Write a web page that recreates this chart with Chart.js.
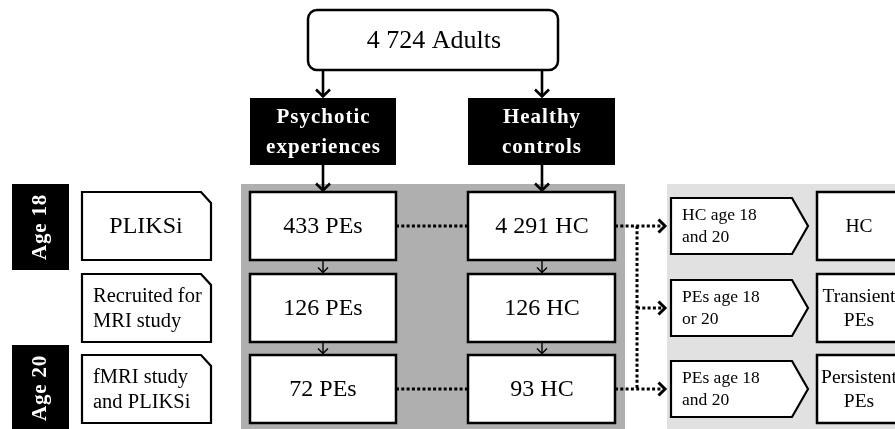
<!DOCTYPE html>
<html>
<head>
<meta charset="utf-8">
<script src="https://cdn.jsdelivr.net/npm/chart.js@4.4.1/dist/chart.umd.min.js"></script>
<style>html,body{margin:0;padding:0;background:#fff;overflow:hidden}</style>
</head>
<body>
<canvas id="flow" width="895" height="429"></canvas>
<script>
'use strict';

// --- data ---
const totalAdults      = 4724;
const groupLabels      = [['Psychotic', 'experiences'], ['Healthy', 'controls']];
const ageLabels        = ['Age 18', 'Age 20'];
const stageLabels      = [['PLIKSi'], ['Recruited for', 'MRI study'], ['fMRI study', 'and PLIKSi']];
const peCounts         = [433, 126, 72];
const hcCounts         = [4291, 126, 93];
const outcomeCriteria  = [['HC age 18', 'and 20'], ['PEs age 18', 'or 20'], ['PEs age 18', 'and 20']];
const outcomeGroups    = [['HC'], ['Transient', 'PEs'], ['Persistent', 'PEs']];

// --- layout (in chart units, 1 unit = 1 px) ---
const rowTop  = [192, 274, 355];
const rowH    = 68;
const colPE   = [250, 396];
const colHC   = [468, 615];
const SERIF   = '"Liberation Serif", "Times New Roman", serif';

const fmt = n => n >= 1000 ? String(n).replace(/\B(?=(\d{3})+(?!\d))/g, ' ') : String(n);

const flowPlugin = {
    id: 'flow',
    afterDraw(chart) {
        const ctx = chart.ctx;
        const xs = chart.scales.x, ys = chart.scales.y;
        const X = v => xs.getPixelForValue(v);
        const Y = v => ys.getPixelForValue(v);

        const rect = (x0, y0, x1, y1, fill, lw) => {
            ctx.beginPath();
            ctx.rect(X(x0), Y(y0), X(x1) - X(x0), Y(y1) - Y(y0));
            if (fill) { ctx.fillStyle = fill; ctx.fill(); }
            if (lw) { ctx.lineWidth = lw; ctx.strokeStyle = '#000'; ctx.stroke(); }
        };
        const poly = (pts, fill, lw) => {
            ctx.beginPath();
            pts.forEach((p, i) => i ? ctx.lineTo(X(p[0]), Y(p[1])) : ctx.moveTo(X(p[0]), Y(p[1])));
            ctx.closePath();
            ctx.fillStyle = fill; ctx.fill();
            ctx.lineWidth = lw; ctx.strokeStyle = '#000'; ctx.lineJoin = 'miter'; ctx.stroke();
        };
        const text = (lines, x, y, font, color, align, lh, spacing) => {
            ctx.font = font;
            ctx.fillStyle = color;
            ctx.textAlign = align || 'center';
            ctx.textBaseline = 'middle';
            ctx.letterSpacing = spacing || '0px';
            const h = lh || 24;
            const start = y - (lines.length - 1) * h / 2;
            lines.forEach((s, i) => ctx.fillText(s, X(x), Y(start + i * h)));
            ctx.letterSpacing = '0px';
        };
        const line = (x0, y0, x1, y1, lw, dash) => {
            ctx.beginPath();
            ctx.setLineDash(dash || []);
            ctx.lineWidth = lw; ctx.strokeStyle = '#000';
            ctx.moveTo(X(x0), Y(y0)); ctx.lineTo(X(x1), Y(y1));
            ctx.stroke();
            ctx.setLineDash([]);
        };
        const head = (x, y, dir, size, lw) => {   // open chevron, tip at (x,y)
            ctx.beginPath();
            ctx.lineWidth = lw; ctx.strokeStyle = '#000';
            ctx.lineCap = 'butt'; ctx.lineJoin = 'miter';
            if (dir === 'down') {
                ctx.moveTo(X(x - size), Y(y - size)); ctx.lineTo(X(x), Y(y)); ctx.lineTo(X(x + size), Y(y - size));
            } else {
                ctx.moveTo(X(x - size), Y(y - size)); ctx.lineTo(X(x), Y(y)); ctx.lineTo(X(x - size), Y(y + size));
            }
            ctx.stroke();
        };
        const arrowDown = (x, y0, y1, lw, size) => { line(x, y0, x, y1 - 1.5, lw); head(x, y1 - 1.5, 'down', size, lw); };

        ctx.save();

        // background panels
        rect(241, 184, 625, 440, '#afafaf');
        rect(667, 184, 905, 440, '#e1e1e1');

        // top rounded box
        ctx.beginPath();
        ctx.roundRect(X(308), Y(10), X(558) - X(308), Y(70) - Y(10), 9);
        ctx.fillStyle = '#fff'; ctx.fill();
        ctx.lineWidth = 2.5; ctx.strokeStyle = '#000'; ctx.stroke();
        text([fmt(totalAdults) + ' Adults'], 434, 41, '26px ' + SERIF, '#000');

        // group header boxes
        [colPE, colHC].forEach((c, i) => {
            rect(c[0], 98, c[1], 165, '#000');
            text(groupLabels[i], (c[0] + c[1]) / 2 + 0.5, 133, 'bold 21px ' + SERIF, '#fff', 'center', 30, '1px');
        });

        // arrows top
        [323, 542].forEach(x => {
            arrowDown(x, 70, 98, 2.6, 7);
            arrowDown(x, 165, 192, 2.6, 7);
            for (let r = 0; r < 2; r++) arrowDown(x, rowTop[r] + rowH, rowTop[r + 1], 1.4, 5);
        });

        // age boxes
        const ageY = [[184, 270], [345, 440]];
        ageY.forEach((a, i) => {
            rect(12, a[0], 69, a[1], '#000');
            ctx.save();
            ctx.translate(X(41), Y(i === 0 ? 227 : 388));
            ctx.rotate(-Math.PI / 2);
            ctx.font = 'bold 21px ' + SERIF; ctx.fillStyle = '#fff';
            ctx.letterSpacing = '0.8px';
            ctx.textAlign = 'center'; ctx.textBaseline = 'middle';
            ctx.fillText(ageLabels[i], 0, 0);
            ctx.restore();
        });

        // stage boxes (clipped corner)
        stageLabels.forEach((lab, r) => {
            const y0 = rowTop[r], y1 = y0 + rowH;
            poly([[82, y0], [201, y0], [211, y0 + 11], [211, y1], [82, y1]], '#fff', 2.2);
            if (lab.length === 1) text(lab, 146, y0 + rowH / 2 + 1, '24px ' + SERIF, '#000');
            else text(lab, 93, y0 + rowH / 2 + 1, '20.5px ' + SERIF, '#000', 'left', 25);
        });

        // count boxes
        peCounts.forEach((n, r) => {
            rect(colPE[0], rowTop[r], colPE[1], rowTop[r] + rowH, '#fff', 2.5);
            text([fmt(n) + ' PEs'], 323, rowTop[r] + rowH / 2 + 1, '24px ' + SERIF, '#000');
        });
        hcCounts.forEach((n, r) => {
            rect(colHC[0], rowTop[r], colHC[1], rowTop[r] + rowH, '#fff', 2.5);
            text([fmt(n) + ' HC'], 542, rowTop[r] + rowH / 2 + 1, '24px ' + SERIF, '#000');
        });

        // dotted connectors
        const dot = [3, 2.3];
        const cy = r => rowTop[r] + rowH / 2;
        line(396, cy(0), 468, cy(0), 3, dot);
        line(396, cy(2), 468, cy(2), 3, dot);
        line(615, cy(0), 662, cy(0), 3, dot);
        line(615, cy(2), 662, cy(2), 3, dot);
        line(637, cy(0), 637, cy(2), 3, dot);
        line(637, cy(1), 662, cy(1), 3, dot);
        [0, 1, 2].forEach(r => head(665, cy(r), 'right', 6.5, 3));

        // outcome pentagons + boxes
        outcomeCriteria.forEach((lab, r) => {
            const c = cy(r);
            poly([[671, c - 28], [792, c - 28], [808, c], [792, c + 28], [671, c + 28]], '#fff', 2.2);
            text(lab, 682, c, '17.5px ' + SERIF, '#000', 'left', 22);
            rect(817, rowTop[r], 905, rowTop[r] + rowH, '#fff', 2.5);
            text(outcomeGroups[r], 859, c + 1, '19.5px ' + SERIF, '#000', 'center', 24);
        });

        ctx.restore();
    }
};

new Chart(document.getElementById('flow').getContext('2d'), {
    type: 'scatter',
    data: { datasets: [{ data: [] }] },
    options: {
        responsive: false,
        animation: false,
        layout: { padding: 0 },
        plugins: { legend: { display: false }, tooltip: { enabled: false } },
        scales: {
            x: { type: 'linear', min: 0, max: 895, display: false },
            y: { type: 'linear', min: 0, max: 429, reverse: true, display: false }
        }
    },
    plugins: [flowPlugin]
});
</script>
</body>
</html>
